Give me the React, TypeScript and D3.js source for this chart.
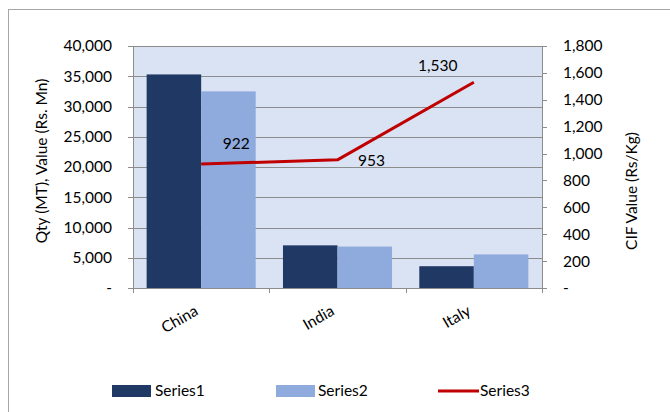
import React from "react";
import * as d3 from "d3";

const categories = ["China", "India", "Italy"];
const series1 = [35300, 7050, 3600];
const series2 = [32500, 6850, 5550];
const series3 = [922, 953, 1530];
const leftTicks = [0, 5000, 10000, 15000, 20000, 25000, 30000, 35000, 40000];
const rightTicks = [0, 200, 400, 600, 800, 1000, 1200, 1400, 1600, 1800];
const seriesNames = ["Series1", "Series2", "Series3"];

const W = 670;
const H = 412;
const FONT = "Lato, 'Open Sans', sans-serif";
const C1 = "#203864";
const C2 = "#8faadc";
const C3 = "#c00000";

export default function App() {
  const left = 133;
  const right = 542;
  const top = 46;
  const bottom = 288;

  const x = d3.scaleBand<string>().domain(categories).range([left, right]).paddingInner(0).paddingOuter(0);
  const bw = x.bandwidth() / 2.5;
  const yL = d3.scaleLinear().domain([0, 40000]).range([bottom, top]);
  const yR = d3.scaleLinear().domain([0, 1800]).range([bottom, top]);
  const fmt = (v: number) => (v === 0 ? "-" : d3.format(",")(v));

  const cx = (c: string) => (x(c) as number) + x.bandwidth() / 2;
  const line = d3
    .line<number>()
    .x((_, i) => cx(categories[i]))
    .y((d) => yR(d));

  const labelOffsets = [
    [35, -20],
    [34, 1],
    [-36, -17],
  ];

  return (
    <svg
      width={W}
      height={H}
      style={{ position: "absolute", left: 0, top: 0, background: "#fff" }}
      fontFamily={FONT}
    >
      <rect x={8.5} y={9.5} width={800} height={600} fill="#fff" stroke="#a6a6a6" strokeWidth={1} />
      <rect x={left} y={top} width={right - left} height={bottom - top} fill="#dae3f3" />
      {leftTicks.slice(1).map((t) => (
        <line key={t} x1={left} x2={right} y1={Math.round(yL(t)) + 0.5} y2={Math.round(yL(t)) + 0.5} stroke="#8c8c8c" strokeWidth={1} />
      ))}
      {categories.map((c, i) => (
        <g key={c}>
          <rect x={(x(c) as number) + bw * 0.25} y={yL(series1[i])} width={bw} height={bottom - yL(series1[i])} fill={C1} />
          <rect x={(x(c) as number) + bw * 1.25} y={yL(series2[i])} width={bw} height={bottom - yL(series2[i])} fill={C2} />
        </g>
      ))}
      {/* left axis */}
      <line x1={left + 0.5} x2={left + 0.5} y1={top} y2={bottom + 5} stroke="#8c8c8c" />
      {leftTicks.map((t) => (
        <g key={t}>
          <line x1={left - 5} x2={left} y1={Math.round(yL(t)) + 0.5} y2={Math.round(yL(t)) + 0.5} stroke="#8c8c8c" />
          <text x={left - 21} y={yL(t)} dy="0.35em" textAnchor="end" fontSize={15.5} fill="#000">
            {fmt(t)}
          </text>
        </g>
      ))}
      {/* right axis */}
      <line x1={right + 0.5} x2={right + 0.5} y1={top} y2={bottom} stroke="#8c8c8c" />
      {rightTicks.map((t) => (
        <g key={t}>
          <line x1={right} x2={right + 5} y1={Math.round(yR(t)) + 0.5} y2={Math.round(yR(t)) + 0.5} stroke="#8c8c8c" />
          <text x={right + 21} y={yR(t)} dy="0.35em" textAnchor="start" fontSize={15.5} fill="#000">
            {fmt(t)}
          </text>
        </g>
      ))}
      {/* x axis */}
      <line x1={left - 5} x2={right} y1={bottom + 0.5} y2={bottom + 0.5} stroke="#8c8c8c" />
      {[...categories.map((c) => x(c) as number), right].map((v, i) => (
        <line key={i} x1={Math.round(v) + 0.5} x2={Math.round(v) + 0.5} y1={bottom} y2={bottom + 5} stroke="#8c8c8c" />
      ))}
      {categories.map((c) => (
        <text
          key={c}
          transform={`translate(${cx(c) - 2},${bottom + 26}) rotate(-30)`}
          textAnchor="end"
          fontSize={15.5}
          fill="#000"
        >
          {c}
        </text>
      ))}
      {/* line series */}
      <path d={line(series3) || ""} fill="none" stroke={C3} strokeWidth={3} strokeLinejoin="round" />
      {series3.map((v, i) => (
        <text
          key={i}
          x={cx(categories[i]) + labelOffsets[i][0]}
          y={yR(v) + labelOffsets[i][1]}
          dy="0.35em"
          textAnchor="middle"
          fontSize={15.5}
          fill="#000"
        >
          {d3.format(",")(v)}
        </text>
      ))}
      {/* axis titles */}
      <text transform={`translate(42,161) rotate(-90)`} textAnchor="middle" dy="0.35em" fontSize={15.5} fill="#000">
        Qty (MT), Value (Rs. Mn)
      </text>
      <text transform={`translate(632,191) rotate(-90)`} textAnchor="middle" dy="0.35em" fontSize={15.5} fill="#000">
        CIF Value (Rs/Kg)
      </text>
      {/* legend */}
      <rect x={112} y={385} width={39} height={12} fill={C1} />
      <text x={155} y={391} dy="0.35em" fontSize={15.5} fill="#000">{seriesNames[0]}</text>
      <rect x={276} y={385} width={39} height={12} fill={C2} />
      <text x={318} y={391} dy="0.35em" fontSize={15.5} fill="#000">{seriesNames[1]}</text>
      <line x1={438} x2={479} y1={391} y2={391} stroke={C3} strokeWidth={3} />
      <text x={480} y={391} dy="0.35em" fontSize={15.5} fill="#000">{seriesNames[2]}</text>
    </svg>
  );
}
